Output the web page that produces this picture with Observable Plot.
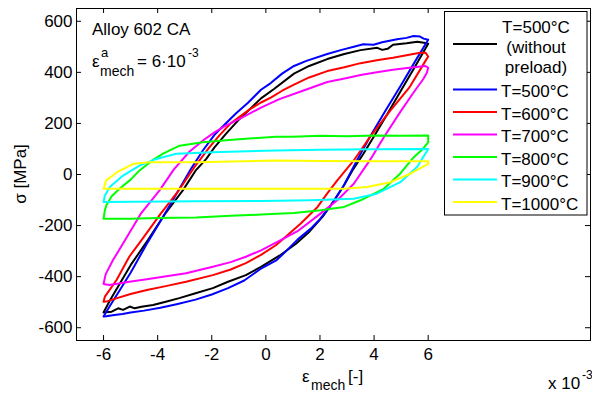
<!DOCTYPE html>
<html><head><meta charset="utf-8">
<script src="https://cdn.jsdelivr.net/npm/d3@7"></script>
<script src="https://cdn.jsdelivr.net/npm/@observablehq/plot@0.6"></script>
<style>
html,body{margin:0;padding:0;background:#fff;}
#chart{width:592px;height:393px;overflow:hidden;}
</style></head><body><div id="chart"></div>
<script>
// ---- data (strain in 1e-3, stress in MPa) ----
const xTicks = [-6, -4, -2, 0, 2, 4, 6];
const yTicks = [-600, -400, -200, 0, 200, 400, 600];

const loop500np = [
 [-6,-540],[-5.75,-490],[-5.5,-445],[-5,-355],[-4.36,-257],[-3.7,-150],[-3.07,-62],[-2.6,15],[-2.21,60],[-1.9,106],[-1.47,160],[-1.04,210],[-0.6,255],[-0.18,298],[0.3,335],[1.04,395],[1.6,425],[2.27,452],[2.9,472],[3.5,487],[4.12,496],[4.3,488],[4.5,492],[4.7,508],[5.2,514],[5.6,520],[5.9,515],[6,512],
 [5.5,420],[5,330],[4.48,235],[4.0,150],[3.6,80],[3.2,16],[2.9,-40],[2.5,-105],[2.1,-165],[1.6,-225],[1.1,-272],[0.5,-318],[-0.18,-362],[-0.74,-394],[-1.4,-420],[-1.96,-445],[-2.6,-465],[-3.2,-484],[-3.7,-498],[-4.17,-511],[-4.6,-518],[-4.85,-524],[-5.03,-517],[-5.28,-530],[-5.46,-524],[-5.7,-537],[-6,-540]
];
const loop500 = [
 [-6,-556],[-5.75,-512],[-5.5,-470],[-5,-385],[-4.42,-275],[-3.8,-165],[-3.19,-55],[-2.75,25],[-2.33,94],[-1.9,155],[-1.53,195],[-1.1,240],[-0.67,280],[-0.18,332],[0.18,358],[0.6,395],[1.04,425],[1.5,445],[2.27,472],[2.8,488],[3.25,500],[3.6,510],[3.98,508],[4.3,518],[4.85,530],[5.2,535],[5.46,542],[5.7,540],[5.83,532],[6,528],
 [5.5,440],[5,350],[4.42,250],[3.87,152],[3.38,58],[2.87,-45],[2.46,-113],[2.0,-175],[1.66,-212],[1.17,-255],[0.7,-305],[0.4,-335],[-0.2,-370],[-0.8,-415],[-1.4,-445],[-2.0,-470],[-2.6,-490],[-3.3,-508],[-3.9,-522],[-4.5,-533],[-5.0,-540],[-5.3,-546],[-5.6,-550],[-5.9,-555],[-6,-556]
];
const loop600 = [
 [-6,-498],[-5.95,-478],[-5.52,-413],[-5.05,-322],[-4.55,-250],[-3.9,-155],[-3.19,-58],[-2.6,35],[-2.09,106],[-1.7,155],[-1.3,200],[-0.6,255],[-0.18,282],[0.2,302],[0.6,328],[1.04,352],[1.6,380],[2.27,405],[2.9,420],[3.5,436],[4.1,447],[4.7,457],[5.2,467],[5.7,477],[5.9,477],[6,462],
 [5.9,445],[5.3,340],[4.6,250],[3.87,150],[3.25,55],[2.64,-23],[2.27,-74],[1.91,-127],[1.29,-192],[0.67,-250],[0.37,-277],[-0.18,-315],[-0.74,-347],[-1.3,-372],[-1.96,-394],[-2.95,-420],[-3.7,-437],[-4.4,-452],[-5.0,-468],[-5.5,-484],[-5.85,-496],[-6,-498]
];
const loop700 = [
 [-6,-428],[-5.92,-390],[-5.65,-335],[-5.28,-270],[-4.6,-150],[-3.93,-62],[-3.4,20],[-2.82,90],[-2.3,135],[-1.9,165],[-1.5,190],[-0.9,222],[-0.18,262],[0.5,295],[1.29,325],[2.27,362],[3.0,378],[3.5,390],[4.1,400],[4.7,410],[5.3,418],[5.9,425],[6,418],
 [5.95,398],[5.82,374],[5.46,321],[4.97,245],[4.36,146],[3.87,60],[3.25,-36],[2.64,-101],[1.91,-162],[1.17,-222],[0.55,-257],[-0.18,-297],[-0.74,-322],[-1.3,-343],[-1.96,-361],[-2.95,-387],[-3.8,-400],[-4.4,-410],[-5.05,-420],[-5.5,-428],[-5.78,-433],[-5.95,-430],[-6,-428]
];
const loop800 = [
 [-6,-173],[-5.95,-140],[-5.9,-121],[-5.7,-85],[-5.4,-55],[-5.0,-20],[-4.67,16],[-4.2,55],[-3.8,82],[-3.19,113],[-2.33,126],[-1.35,135],[0.37,148],[1,148],[2,152],[3,150],[4,153],[5,152],[6,153],
 [6,126],[5.8,100],[5.46,67],[4.97,4],[4.36,-56],[3.5,-101],[2.89,-127],[2.03,-140],[1.04,-151],[-0.18,-157],[-1.3,-162],[-2.58,-168],[-4,-170],[-5.03,-173],[-6,-173]
];
const loop900 = [
 [-6,-108],[-5.95,-82],[-5.77,-49],[-5.28,-4],[-4.67,35],[-4.05,61],[-3.31,81],[-1.96,87],[-1,90],[0.37,94],[2,97],[4,99],[6,100],
 [5.95,90],[5.9,82],[5.59,29],[4.97,-30],[4.1,-75],[3.25,-95],[1.66,-101],[-0.18,-104],[-2.58,-105],[-5.95,-108],[-6,-108]
];
const loop1000 = [
 [-6,-56],[-5.9,-23],[-5.5,9],[-4.9,42],[-4.3,48],[-2.58,48],[0.37,55],[2,53],[4,52],[6,52],
 [6,42],[5.34,3],[4.6,-30],[3.75,-49],[2.88,-56],[-0.18,-56],[-3,-56],[-6,-56]
];

const seriesLabels = [["T=500°C", "(without", "preload)"], "T=500°C", "T=600°C", "T=700°C", "T=800°C", "T=900°C", "T=1000°C"];
const seriesData = [loop500np, loop500, loop600, loop700, loop800, loop900, loop1000];
const seriesColors = ["#000000", "#0000ff", "#ff0000", "#ff00ff", "#00ff00", "#00ffff", "#ffff00"];

// ---- layout ----
const W = 592, H = 393, mL = 76, mR = 2, mT = 8, mB = 53;
const fw = W - mL - mR, fh = H - mT - mB;
const FONT = "'Liberation Sans', Arial, Helvetica, sans-serif";

const chart = Plot.plot({
  width: W, height: H,
  marginLeft: mL, marginRight: mR, marginTop: mT, marginBottom: mB,
  x: {domain: [-7, 12]},
  y: {domain: [-650, 650]},
  style: {fontFamily: FONT, fontSize: "17px", color: "#000", background: "#fff", overflow: "hidden"},
  marks: [
    ...seriesData.map((d, i) => Plot.line(d, {x: p => p[0], y: p => p[1], stroke: seriesColors[i], strokeWidth: 2, strokeLinejoin: "round"})),
    Plot.axisX(xTicks, {tickSize: 0, tickPadding: 7, tickFormat: d => String(d), label: null}),
    Plot.axisY(yTicks, {tickSize: 0, tickPadding: 4, tickFormat: d => String(d), label: null}),
    Plot.ruleX(xTicks, {x: d => d, insetTop: fh - 5, stroke: "#000"}),
    Plot.ruleX(xTicks, {x: d => d, insetBottom: fh - 5, stroke: "#000"}),
    Plot.ruleY(yTicks, {y: d => d, insetRight: fw - 5, stroke: "#000"}),
    Plot.ruleY(yTicks, {y: d => d, insetLeft: fw - 5, stroke: "#000"}),
    Plot.frame({stroke: "#000", strokeWidth: 1})
  ]
});
document.getElementById("chart").appendChild(chart);

const svg = d3.select(chart);
function txt(x, y, s, size, anchor) {
  return svg.append("text").attr("x", x).attr("y", y).attr("font-family", FONT)
    .attr("font-size", size).attr("fill", "#000").attr("text-anchor", anchor || "start").text(s);
}
// annotations
txt(92, 35, "Alloy 602 CA", 17);
txt(92, 67, "ε", 17);
txt(101, 57, "a", 13);
txt(100, 76, "mech", 14);
txt(137, 67, "= 6·10", 17);
txt(188, 57, "-3", 12);
// axis labels
txt(302, 382, "ε", 17);
txt(311, 390, "mech", 14);
txt(348, 382, "[-]", 17);
txt(548, 389, "x 10", 17);
txt(582, 379, "-3", 12);
svg.append("text").attr("transform", "translate(26,174) rotate(-90)")
  .attr("font-family", FONT).attr("font-size", 17).attr("text-anchor", "middle").text("σ [MPa]");

// legend
const lg = svg.append("g");
lg.append("rect").attr("x", 444.5).attr("y", 11.5).attr("width", 142.5).attr("height", 203.5)
  .attr("fill", "#fff").attr("stroke", "#000").attr("stroke-width", 1);
const lineY = [44, 89.5, 112, 134.5, 157, 179.5, 202];
seriesLabels.forEach((lab, i) => {
  lg.append("line").attr("x1", 453).attr("x2", 497).attr("y1", lineY[i]).attr("y2", lineY[i])
    .attr("stroke", seriesColors[i]).attr("stroke-width", 2);
  if (Array.isArray(lab)) {
    lab.forEach((t, j) => {
      lg.append("text").attr("x", 536).attr("y", 33 + 20 * j).attr("font-family", FONT)
        .attr("font-size", 17).attr("text-anchor", "middle").text(t);
    });
  } else {
    lg.append("text").attr("x", 501).attr("y", lineY[i] + 7.5).attr("font-family", FONT)
      .attr("font-size", 17).attr("text-anchor", "start").text(lab);
  }
});
</script></body></html>
